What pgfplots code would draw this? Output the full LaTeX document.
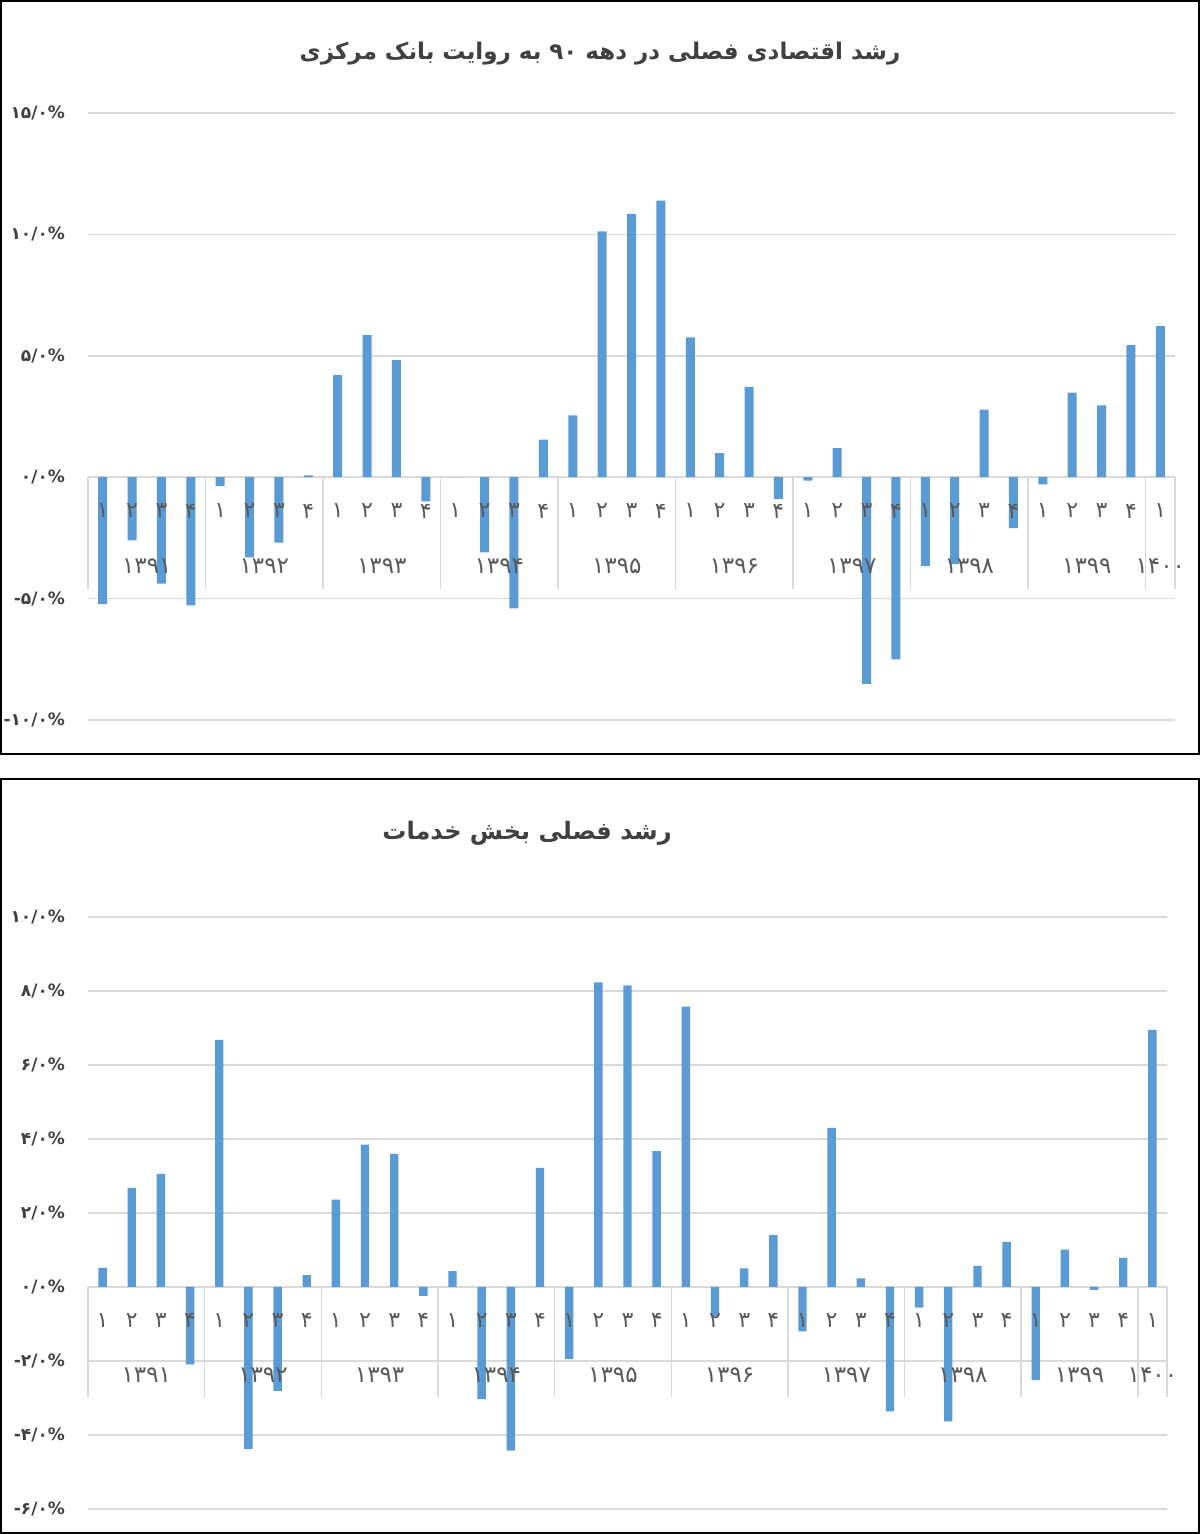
\documentclass[border=0pt]{standalone}
\usepackage{fontspec}
\usepackage{pgfplots}
\pgfplotsset{compat=1.18}
\usepackage{pgfplotstable}
\TeXXeTstate=1
\newfontfamily\arabicfont[Script=Arabic]{DejaVu Sans}
\definecolor{barblue}{HTML}{5B9BD5}
\definecolor{gridgray}{HTML}{D9D9D9}
\definecolor{txtgray}{HTML}{404040}
\definecolor{lblgray}{HTML}{595959}

\pgfplotstableread{
x y
0 -5.23
1 -2.6
2 -4.38
3 -5.28
4 -0.36
5 -3.3
6 -2.7
7 0.07
8 4.2
9 5.85
10 4.82
11 -1.0
12 0
13 -3.1
14 -5.4
15 1.55
16 2.55
17 10.12
18 10.84
19 11.39
20 5.76
21 0.99
22 3.72
23 -0.9
24 -0.14
25 1.2
26 -8.51
27 -7.5
28 -3.65
29 -3.58
30 2.78
31 -2.1
32 -0.3
33 3.48
34 2.96
35 5.44
36 6.22
}\topdata

\pgfplotstableread{
x y
0 0.52
1 2.68
2 3.06
3 -2.09
4 6.68
5 -4.38
6 -2.81
7 0.32
8 2.36
9 3.85
10 3.6
11 -0.24
12 0.43
13 -3.03
14 -4.42
15 3.22
16 -1.95
17 8.23
18 8.15
19 3.67
20 7.58
21 -0.78
22 0.5
23 1.4
24 -1.2
25 4.3
26 0.23
27 -3.36
28 -0.56
29 -3.63
30 0.57
31 1.22
32 -2.52
33 1.01
34 -0.08
35 0.79
36 6.95
}\botdata

\newcommand{\mn}{-\kern0pt }

\tikzset{
  ql/.style={font=\arabicfont\fontsize{11}{13}\selectfont, text=lblgray, anchor=center, inner sep=0pt},
  yl/.style={font=\arabicfont\fontsize{11.5}{13}\selectfont, text=lblgray, anchor=center, inner sep=0pt},
}

\pgfplotsset{
  panel/.style={
    scale only axis,
    anchor=south west,
    xmin=-0.5, xmax=36.5,
    axis line style={draw=none},
    major tick length=0pt,
    ymajorgrids,
    grid style={gridgray, line width=0.75pt},
    xtick=\empty,
    yticklabel style={font=\arabicfont\bfseries\fontsize{8.5}{10}\selectfont, text=txtgray, anchor=east, xshift=-8pt},
    clip=false,
    ybar,
  },
}

\begin{document}
\begin{tikzpicture}[x=1pt,y=1pt]
\path[use as bounding box] (0,0) rectangle (600,767);
\draw[black, line width=0.8pt] (0.5,390) rectangle (599.5,766.5);
\draw[black, line width=0.8pt] (0.5,0.5) rectangle (599.5,377.5);

\node[font=\arabicfont\bfseries\fontsize{11.5}{14}\selectfont, text=txtgray] at (300,740) {\beginR رشد اقتصادی فصلی در دهه ۹۰ به روایت بانک مرکزی\endR};
\node[font=\arabicfont\bfseries\fontsize{12}{14}\selectfont, text=txtgray] at (263.5,350.5) {\beginR رشد فصلی بخش خدمات\endR};

% top chart
\begin{axis}[panel,
  at={(44pt,407pt)},
  width=543.5pt, height=303.5pt,
  ymin=-10, ymax=15,
  ytick={-10,-5,0,5,10,15},
  yticklabels={\mn۱۰/۰\%,\mn۵/۰\%,۰/۰\%,۵/۰\%,۱۰/۰\%,۱۵/۰\%},
  bar width=4.5pt,
]
\pgfplotsinvokeforeach{-0.5,3.5,7.5,11.5,15.5,19.5,23.5,27.5,31.5,35.5,36.5}{
  \draw[gridgray, line width=0.75pt] (axis cs:#1,0) -- (axis cs:#1,-4.62);
}
\addplot[fill=barblue, draw=none] table[x=x, y=y] {\topdata};
\pgfplotsinvokeforeach{0,4,8,12,16,20,24,28,32}{
  \node[ql] at (axis cs:#1,-1.39) {۱};
  \node[ql] at (axis cs:#1+1,-1.39) {۲};
  \node[ql] at (axis cs:#1+2,-1.39) {۳};
  \node[ql] at (axis cs:#1+3,-1.39) {۴};
}
\node[ql] at (axis cs:36,-1.39) {۱};
\node[yl] at (axis cs:1.5,-3.67) {۱۳۹۱};
\node[yl] at (axis cs:5.5,-3.67) {۱۳۹۲};
\node[yl] at (axis cs:9.5,-3.67) {۱۳۹۳};
\node[yl] at (axis cs:13.5,-3.67) {۱۳۹۴};
\node[yl] at (axis cs:17.5,-3.67) {۱۳۹۵};
\node[yl] at (axis cs:21.5,-3.67) {۱۳۹۶};
\node[yl] at (axis cs:25.5,-3.67) {۱۳۹۷};
\node[yl] at (axis cs:29.5,-3.67) {۱۳۹۸};
\node[yl] at (axis cs:33.5,-3.67) {۱۳۹۹};
\node[yl] at (axis cs:36,-3.67) {۱۴۰۰};
\end{axis}

% bottom chart
\begin{axis}[panel,
  at={(44pt,12.5pt)},
  width=539.5pt, height=296pt,
  ymin=-6, ymax=10,
  ytick={-6,-4,-2,0,2,4,6,8,10},
  yticklabels={\mn۶/۰\%,\mn۴/۰\%,\mn۲/۰\%,۰/۰\%,۲/۰\%,۴/۰\%,۶/۰\%,۸/۰\%,۱۰/۰\%},
  bar width=4.2pt,
]
\pgfplotsinvokeforeach{-0.5,3.5,7.5,11.5,15.5,19.5,23.5,27.5,31.5,35.5,36.5}{
  \draw[gridgray, line width=0.75pt] (axis cs:#1,0) -- (axis cs:#1,-2.96);
}
\draw[gridgray, line width=0.75pt] (axis cs:-0.5,-2.02) -- (axis cs:36.5,-2.02);
\addplot[fill=barblue, draw=none] table[x=x, y=y] {\botdata};
\pgfplotsinvokeforeach{0,4,8,12,16,20,24,28,32}{
  \node[ql] at (axis cs:#1,-0.91) {۱};
  \node[ql] at (axis cs:#1+1,-0.91) {۲};
  \node[ql] at (axis cs:#1+2,-0.91) {۳};
  \node[ql] at (axis cs:#1+3,-0.91) {۴};
}
\node[ql] at (axis cs:36,-0.91) {۱};
\node[yl] at (axis cs:1.5,-2.37) {۱۳۹۱};
\node[yl] at (axis cs:5.5,-2.37) {۱۳۹۲};
\node[yl] at (axis cs:9.5,-2.37) {۱۳۹۳};
\node[yl] at (axis cs:13.5,-2.37) {۱۳۹۴};
\node[yl] at (axis cs:17.5,-2.37) {۱۳۹۵};
\node[yl] at (axis cs:21.5,-2.37) {۱۳۹۶};
\node[yl] at (axis cs:25.5,-2.37) {۱۳۹۷};
\node[yl] at (axis cs:29.5,-2.37) {۱۳۹۸};
\node[yl] at (axis cs:33.5,-2.37) {۱۳۹۹};
\node[yl] at (axis cs:36,-2.37) {۱۴۰۰};
\end{axis}
\end{tikzpicture}
\end{document}
